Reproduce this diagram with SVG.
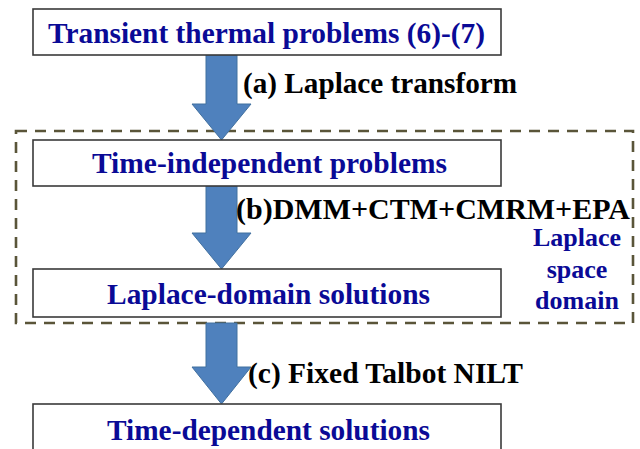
<svg xmlns="http://www.w3.org/2000/svg" width="640" height="449" viewBox="0 0 640 449">
<defs>
<style>
.box{fill:#ffffff;stroke:#3a3a3a;stroke-width:1.6}
.t{font-family:"Liberation Serif","Times New Roman",serif;font-weight:bold;fill:#0a0a96;font-size:29px}
.lbl{font-family:"Liberation Serif","Times New Roman",serif;font-weight:bold;fill:#000000;font-size:29px}
.dom{font-family:"Liberation Serif","Times New Roman",serif;font-weight:bold;fill:#0a0a96;font-size:26px}
.arr{fill:#4f81bd;stroke:#41709f;stroke-width:1}
.dash{fill:none;stroke:#5a5539;stroke-width:2.6;stroke-dasharray:11 8}
</style>
</defs>
<rect width="640" height="449" fill="#ffffff"/>
<g id="region-laplace-space">
<rect class="dash" x="16" y="131" width="617" height="192"/>
<text class="dom" text-anchor="middle" x="577" y="246">Laplace</text>
<text class="dom" text-anchor="middle" x="577" y="278">space</text>
<text class="dom" text-anchor="middle" x="577" y="309">domain</text>
</g>
<g id="connectors">
<path class="arr" d="M206,55 H237 V104 H251 L221.5,140 L192,104 H206 Z"/>
<text class="lbl" x="243" y="93" textLength="274" lengthAdjust="spacingAndGlyphs">(a) Laplace transform</text>
<path class="arr" d="M206,186 H237 V233 H251 L221.5,269 L192,233 H206 Z"/>
<text class="lbl" x="236" y="219" textLength="394" lengthAdjust="spacingAndGlyphs">(b)DMM+CTM+CMRM+EPA</text>
<path class="arr" d="M206,323 H237 V367 H251 L221.5,404 L192,367 H206 Z"/>
<text class="lbl" x="248" y="383" textLength="275" lengthAdjust="spacingAndGlyphs">(c) Fixed Talbot NILT</text>
</g>
<g id="node-transient">
<rect class="box" x="33" y="9" width="468" height="46"/>
<text class="t" x="48" y="43" textLength="437" lengthAdjust="spacingAndGlyphs">Transient thermal problems (6)-(7)</text>
</g>
<g id="node-time-independent">
<rect class="box" x="33" y="140" width="468" height="46"/>
<text class="t" x="92" y="173" textLength="355" lengthAdjust="spacingAndGlyphs">Time-independent problems</text>
</g>
<g id="node-laplace-domain">
<rect class="box" x="33" y="269" width="468" height="48"/>
<text class="t" x="107" y="304" textLength="323" lengthAdjust="spacingAndGlyphs">Laplace-domain solutions</text>
</g>
<g id="node-time-dependent">
<rect class="box" x="33" y="404" width="468" height="60"/>
<text class="t" x="107" y="440" textLength="323" lengthAdjust="spacingAndGlyphs">Time-dependent solutions</text>
</g>
</svg>
